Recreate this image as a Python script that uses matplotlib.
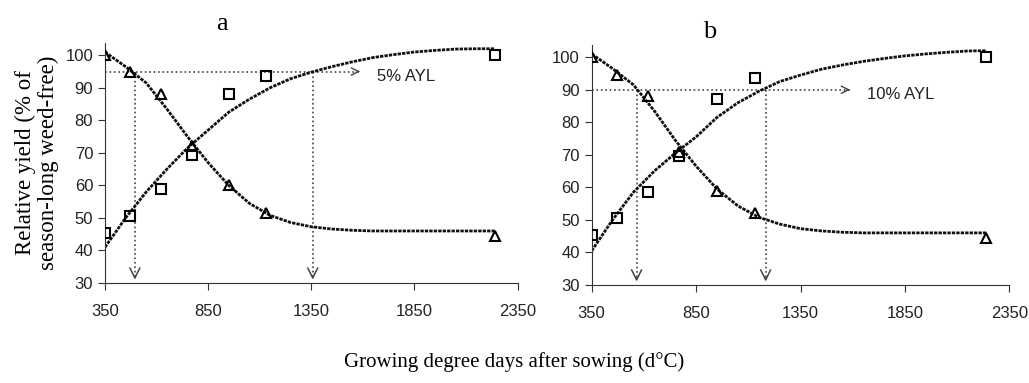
import matplotlib.pyplot as plt

# --- observed points (same sampling times for both panels)
gdd = [350, 470, 620, 770, 950, 1130, 2240]
a_square = [45.5, 50.5, 59, 69.5, 88, 93.5, 100]
a_triangle = [100, 95, 88, 72, 60, 51.5, 44.5]
b_square = [45.5, 50.5, 58.5, 69.5, 87, 93.5, 100]
b_triangle = [100, 94.5, 88, 71, 59, 52, 44.5]

# --- fitted curves
curve_x = [350, 450, 550, 650, 750, 850, 950, 1050, 1150, 1250, 1350,
           1450, 1550, 1650, 1750, 1850, 1950, 2050, 2150, 2240]
a_rise = [41, 50, 58, 65, 71.5, 77, 82.5, 86.5, 90, 92.8, 94.8,
          96.5, 98, 99.3, 100.2, 101, 101.5, 101.9, 102, 102]
a_fall = [101, 96.5, 91.5, 83.5, 75, 67, 60, 54.5, 50.8, 48.6, 47.3,
          46.6, 46.2, 46, 46, 46, 46, 46, 46, 46]
b_rise = [40.5, 50, 58.5, 65, 70.5, 75.5, 81.5, 86, 89.5, 92.5, 94.5,
          96.3, 97.6, 98.7, 99.6, 100.4, 101, 101.5, 101.9, 102]
b_fall = [101, 96.5, 91.5, 83.5, 74.5, 66.5, 59.5, 54.3, 50.8, 48.7, 47.3,
          46.6, 46.2, 46, 46, 46, 46, 46, 46, 46]

# --- acceptable yield loss thresholds and the crossing points
a_level, a_cross, a_label = 95, [495, 1357], '5% AYL'
b_level, b_cross, b_label = 90, [565, 1183], '10% AYL'

plt.rcParams['font.family'] = ['Liberation Sans', 'DejaVu Sans']
fig = plt.figure(figsize=(10.29, 3.83), dpi=100)
ax_a = fig.add_axes([0.102, 0.261, 0.401, 0.627])
ax_b = fig.add_axes([0.575, 0.256, 0.406, 0.627])

panels = [(ax_a, a_square, a_triangle, a_rise, a_fall, a_level, a_cross, a_label, 'a', 1.054),
          (ax_b, b_square, b_triangle, b_rise, b_fall, b_level, b_cross, b_label, 'b', 1.03)]

for ax, sq, tri, rise, fall, level, cross, label, title, ty in panels:
    dot = (0, (1.2, 0.4))
    ax.plot(curve_x, rise, color='#111111', lw=2.0, ls=dot, zorder=2)
    ax.plot(curve_x, fall, color='#111111', lw=2.0, ls=dot, zorder=2)
    ax.plot(gdd, sq, ls='none', marker='s', ms=6.5, mfc='none', mec='black', mew=1.5, zorder=3)
    ax.plot(gdd, tri, ls='none', marker='^', ms=7.5, mfc='none', mec='black', mew=1.5, zorder=3)

    # horizontal threshold arrow
    ax.plot([350, 1585], [level, level], color='#444444', lw=1.2, ls=':', zorder=1)
    ax.annotate('', xy=(1600, level), xytext=(1560, level),
                arrowprops=dict(arrowstyle='->', color='#444444', lw=1.0,
                                mutation_scale=13), zorder=1)
    ax.text(1668, level - 1.5, label, fontsize=12, va='center', ha='left', color='#222222')

    # vertical arrows down to the x axis
    for xc in cross:
        ax.plot([xc, xc], [level, 31.5], color='#444444', lw=1.2, ls=':', zorder=1)
        ax.annotate('', xy=(xc, 30.2), xytext=(xc, 33),
                    arrowprops=dict(arrowstyle='->', color='#444444', lw=1.1,
                                    mutation_scale=18), zorder=1)

    ax.set_xlim(350, 2350)
    ax.set_ylim(30, 103.8)
    ax.set_xticks([350, 850, 1350, 1850, 2350])
    ax.set_yticks(range(30, 101, 10))
    ax.spines['top'].set_visible(False)
    ax.spines['right'].set_visible(False)
    ax.spines['left'].set_color('#333333')
    ax.spines['bottom'].set_color('#333333')
    ax.tick_params(labelsize=12, length=5, color='#333333', labelcolor='#222222')
    ax.tick_params(axis='x', pad=10)
    ax.text(0.283, ty, title, transform=ax.transAxes, family='Liberation Serif',
            fontsize=19, ha='center', va='baseline')

ax_a.set_ylabel('Relative yield (% of\nseason-long weed-free)', family='Liberation Serif',
                fontsize=16.5, linespacing=1.1)
ax_a.yaxis.set_label_coords(-0.112, 0.5)
fig.text(0.5, 0.028, 'Growing degree days after sowing (d°C)', family='Liberation Serif',
         fontsize=15, ha='center', va='bottom')

fig.savefig('out.png', dpi=100)
